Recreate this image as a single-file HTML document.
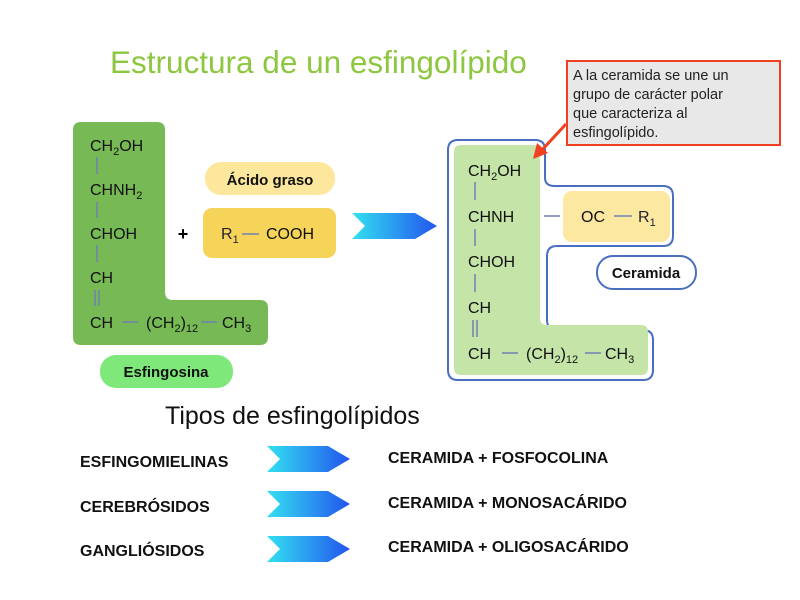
<!DOCTYPE html>
<html><head><meta charset="utf-8"><style>
body{margin:0;background:#fff}
svg{display:block;font-family:"Liberation Sans",Arial,sans-serif}
</style></head><body>
<svg width="800" height="600" viewBox="0 0 800 600">
<defs>
<linearGradient id="ag" x1="0" x2="1"><stop offset="0" stop-color="#33e0f0"/><stop offset="1" stop-color="#2255ee"/></linearGradient>
</defs>
<text x="110" y="73" font-size="31.5" fill="#8dc63f">Estructura de un esfingolípido</text>

<!-- Left L -->
<path d="M81,122 H157 Q165,122 165,130 V292 Q165,300 173,300 H260 Q268,300 268,308 V337 Q268,345 260,345 H81 Q73,345 73,337 V130 Q73,122 81,122 Z" fill="#76b955"/>
<g font-size="16" fill="#111">
<text x="90" y="151">CH<tspan font-size="11" dy="4">2</tspan><tspan dy="-4">OH</tspan></text>
<text x="90" y="195">CHNH<tspan font-size="11" dy="4">2</tspan></text>
<text x="90" y="239">CHOH</text>
<text x="90" y="283">CH</text>
<text x="90" y="328">CH</text>
<text x="146" y="328">(CH<tspan font-size="11" dy="4">2</tspan><tspan dy="-4">)</tspan><tspan font-size="11" dy="4">12</tspan></text>
<text x="222" y="328">CH<tspan font-size="11" dy="4">3</tspan></text>
</g>
<g stroke="#7080b0" stroke-width="1.5">
<line x1="97" y1="157" x2="97" y2="174"/><line x1="97" y1="202" x2="97" y2="218"/><line x1="97" y1="245" x2="97" y2="262"/>
<line x1="95" y1="290" x2="95" y2="306"/><line x1="99" y1="290" x2="99" y2="306"/>
<line x1="122" y1="322" x2="138" y2="322"/><line x1="201" y1="322" x2="217" y2="322"/>
</g>
<rect x="100" y="355" width="133" height="33" rx="16" fill="#7ee87a"/>
<text x="166" y="377" font-size="15" font-weight="bold" text-anchor="middle" fill="#111">Esfingosina</text>

<text x="183" y="240" font-size="18" font-weight="bold" text-anchor="middle">+</text>
<rect x="205" y="162" width="130" height="33" rx="16" fill="#fce79c"/>
<text x="270" y="185" font-size="15" font-weight="bold" text-anchor="middle" fill="#111">Ácido graso</text>
<rect x="203" y="208" width="133" height="50" rx="9" fill="#f6d45a"/>
<text x="221" y="239" font-size="16" fill="#223">R<tspan font-size="11" dy="4">1</tspan></text>
<line x1="242" y1="234" x2="259" y2="234" stroke="#7080b0" stroke-width="1.5"/>
<text x="266" y="239" font-size="16" fill="#111">COOH</text>

<path d="M352,213 H415 L437,226 L415,239 H352 L365,226 Z" fill="url(#ag)"/>

<!-- Right ceramide -->
<path d="M458,140 H535 Q545,140 545,150 V178 Q545,186 555,186 H663 Q673,186 673,196 V236 Q673,246 663,246 H557 Q547,246 547,256 V320 Q547,330 557,330 H643 Q653,330 653,340 V370 Q653,380 643,380 H458 Q448,380 448,370 V150 Q448,140 458,140 Z" fill="#fff" stroke="#4a6fc0" stroke-width="2"/>
<path d="M461,145 H533 Q540,145 540,152 V318 Q540,325 547,325 H641 Q648,325 648,332 V368 Q648,375 641,375 H461 Q454,375 454,368 V152 Q454,145 461,145 Z" fill="#c5e4a8"/>
<rect x="563" y="191" width="107" height="51" rx="9" fill="#fce8a0"/>
<g font-size="16" fill="#111">
<text x="468" y="176">CH<tspan font-size="11" dy="4">2</tspan><tspan dy="-4">OH</tspan></text>
<text x="468" y="222">CHNH</text>
<text x="468" y="267">CHOH</text>
<text x="468" y="313">CH</text>
<text x="468" y="359">CH</text>
<text x="526" y="359">(CH<tspan font-size="11" dy="4">2</tspan><tspan dy="-4">)</tspan><tspan font-size="11" dy="4">12</tspan></text>
<text x="605" y="359">CH<tspan font-size="11" dy="4">3</tspan></text>
<text x="581" y="222">OC</text>
<text x="638" y="222" fill="#223">R<tspan font-size="11" dy="4">1</tspan></text>
</g>
<g stroke="#7080b0" stroke-width="1.5">
<line x1="475" y1="182" x2="475" y2="200"/><line x1="475" y1="229" x2="475" y2="246"/><line x1="475" y1="274" x2="475" y2="292"/>
<line x1="473" y1="320" x2="473" y2="337"/><line x1="477" y1="320" x2="477" y2="337"/>
<line x1="544" y1="216" x2="560" y2="216"/><line x1="614" y1="216" x2="632" y2="216"/>
<line x1="502" y1="353" x2="518" y2="353"/><line x1="585" y1="353" x2="601" y2="353"/>
</g>
<rect x="597" y="256" width="99" height="33" rx="16" fill="#fff" stroke="#4a6fc0" stroke-width="2"/>
<text x="646" y="278" font-size="15" font-weight="bold" text-anchor="middle" fill="#111">Ceramida</text>

<!-- Callout -->
<rect x="567" y="61" width="213" height="84" fill="#e8e8e8" stroke="#f04020" stroke-width="2"/>
<g font-size="14.5" fill="#222">
<text x="573" y="80">A la ceramida se une un</text>
<text x="573" y="99">grupo de carácter polar</text>
<text x="573" y="118">que caracteriza al</text>
<text x="573" y="137">esfingolípido.</text>
</g>
<line x1="566" y1="124" x2="542" y2="150" stroke="#f04020" stroke-width="3"/>
<path d="M533,159 L537,143 L548,153 Z" fill="#f04020"/>

<text x="165" y="424" font-size="25" fill="#111">Tipos de esfingolípidos</text>
<g font-size="16" font-weight="bold" fill="#111">
<text x="80" y="467">ESFINGOMIELINAS</text>
<text x="80" y="512">CEREBRÓSIDOS</text>
<text x="80" y="556">GANGLIÓSIDOS</text>
<text x="388" y="463">CERAMIDA + FOSFOCOLINA</text>
<text x="388" y="508">CERAMIDA + MONOSACÁRIDO</text>
<text x="388" y="552">CERAMIDA + OLIGOSACÁRIDO</text>
</g>
<path d="M267,446 H328 L350,459 L328,472 H267 L280,459 Z" fill="url(#ag)"/>
<path d="M267,491 H328 L350,504 L328,517 H267 L280,504 Z" fill="url(#ag)"/>
<path d="M267,536 H328 L350,549 L328,562 H267 L280,549 Z" fill="url(#ag)"/>
</svg>
</body></html>
